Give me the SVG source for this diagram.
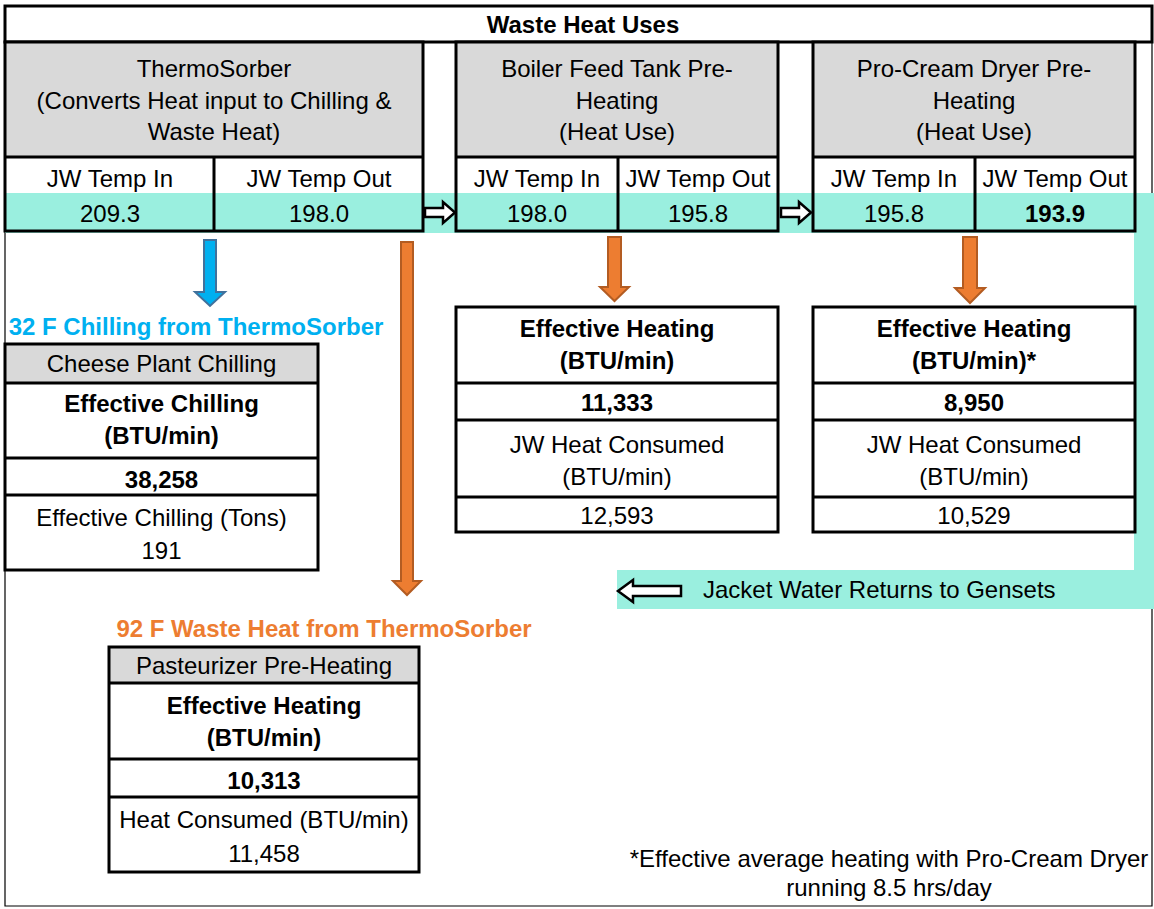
<svg xmlns="http://www.w3.org/2000/svg" width="1154" height="909" viewBox="0 0 1154 909">
<style>
.t{font-family:"Liberation Sans",Arial,sans-serif;font-size:24px;text-anchor:middle;fill:#000}
.b{font-weight:bold}
.ln{fill:none;stroke:#000;stroke-width:3}
.thin{fill:none;stroke:#000;stroke-width:1.2}
.gray{fill:#D9D9D9}
.wh{fill:#FFFFFF}
.tq{fill:#9AEFDF}
.oarr{fill:#ED7D31;stroke:#B35C22;stroke-width:2}
.barr{fill:#00B0F0;stroke:#41719C;stroke-width:2}
.harr{fill:#FFFFFF;stroke:#000;stroke-width:2.5}
</style>
<rect x="0" y="0" width="1154" height="909" fill="#FFFFFF"/>
<g id="frame">
  <path class="thin" d="M5,42 V906 H1152 V42"/>
</g>
<g id="jw-flow">
  <rect class="tq" x="5" y="193" width="1130" height="40"/>
  <rect class="tq" x="1134" y="193" width="20" height="416"/>
  <rect class="tq" x="617" y="570" width="537" height="39"/>
</g>
<g id="header">
  <rect class="ln" x="5" y="6" width="1147" height="36"/>
  <text class="t b" x="583" y="33">Waste Heat Uses</text>
</g>
<g id="thermosorber">
  <rect class="gray" x="5" y="42" width="418" height="115"/>
  <rect class="wh" x="5" y="157" width="418" height="36"/>
  <rect class="ln" x="5" y="42" width="418" height="189"/>
  <path class="ln" d="M5,157 H423 M214,157 V231"/>
  <text class="t" x="214" y="77">ThermoSorber</text>
  <text class="t" x="214" y="109">(Converts Heat input to Chilling &amp;</text>
  <text class="t" x="214" y="140">Waste Heat)</text>
  <text class="t" x="110" y="187">JW Temp In</text>
  <text class="t" x="319" y="187">JW Temp Out</text>
  <text class="t" x="110" y="222">209.3</text>
  <text class="t" x="319" y="222">198.0</text>
</g>
<g id="boiler-feed">
  <rect class="gray" x="456" y="42" width="322" height="115"/>
  <rect class="wh" x="456" y="157" width="322" height="36"/>
  <rect class="ln" x="456" y="42" width="322" height="189"/>
  <path class="ln" d="M456,157 H778 M618,157 V231"/>
  <text class="t" x="617" y="77">Boiler Feed Tank Pre-</text>
  <text class="t" x="617" y="109">Heating</text>
  <text class="t" x="617" y="140">(Heat Use)</text>
  <text class="t" x="537" y="187">JW Temp In</text>
  <text class="t" x="698" y="187">JW Temp Out</text>
  <text class="t" x="537" y="222">198.0</text>
  <text class="t" x="698" y="222">195.8</text>
</g>
<g id="pro-cream">
  <rect class="gray" x="813" y="42" width="322" height="115"/>
  <rect class="wh" x="813" y="157" width="322" height="36"/>
  <rect class="ln" x="813" y="42" width="322" height="189"/>
  <path class="ln" d="M813,157 H1135 M975,157 V231"/>
  <text class="t" x="974" y="77">Pro-Cream Dryer Pre-</text>
  <text class="t" x="974" y="109">Heating</text>
  <text class="t" x="974" y="140">(Heat Use)</text>
  <text class="t" x="894" y="187">JW Temp In</text>
  <text class="t" x="1055" y="187">JW Temp Out</text>
  <text class="t" x="894" y="222">195.8</text>
  <text class="t b" x="1055" y="222">193.9</text>
</g>
<g id="chilling-label">
  <text class="t b" x="196" y="335" fill="#00B0F0" style="fill:#00B0F0">32 F Chilling from ThermoSorber</text>
</g>
<g id="cheese-plant">
  <rect class="gray" x="5" y="344" width="313" height="39"/>
  <rect class="wh" x="5" y="383" width="313" height="187"/>
  <rect class="ln" x="5" y="344" width="313" height="226"/>
  <path class="ln" d="M5,383 H318 M5,458 H318 M5,495 H318"/>
  <text class="t" x="161.5" y="372">Cheese Plant Chilling</text>
  <text class="t b" x="161.5" y="412">Effective Chilling</text>
  <text class="t b" x="161.5" y="444">(BTU/min)</text>
  <text class="t b" x="161.5" y="488">38,258</text>
  <text class="t" x="161.5" y="526">Effective Chilling (Tons)</text>
  <text class="t" x="161.5" y="559">191</text>
</g>
<g id="boiler-heating">
  <rect class="ln" x="456" y="307" width="322" height="225"/>
  <path class="ln" d="M456,383 H778 M456,420 H778 M456,497 H778"/>
  <text class="t b" x="617" y="337">Effective Heating</text>
  <text class="t b" x="617" y="369">(BTU/min)</text>
  <text class="t b" x="617" y="411">11,333</text>
  <text class="t" x="617" y="453">JW Heat Consumed</text>
  <text class="t" x="617" y="485">(BTU/min)</text>
  <text class="t" x="617" y="524">12,593</text>
</g>
<g id="procream-heating">
  <rect class="ln" x="813" y="307" width="322" height="225"/>
  <path class="ln" d="M813,383 H1135 M813,420 H1135 M813,497 H1135"/>
  <text class="t b" x="974" y="337">Effective Heating</text>
  <text class="t b" x="974" y="369">(BTU/min)*</text>
  <text class="t b" x="974" y="411">8,950</text>
  <text class="t" x="974" y="453">JW Heat Consumed</text>
  <text class="t" x="974" y="485">(BTU/min)</text>
  <text class="t" x="974" y="524">10,529</text>
</g>
<g id="jacket-return">
  <text class="t" x="703" y="598" style="text-anchor:start">Jacket Water Returns to Gensets</text>
</g>
<g id="waste-label">
  <text class="t b" x="324" y="637" style="fill:#ED7D31">92 F Waste Heat from ThermoSorber</text>
</g>
<g id="pasteurizer">
  <rect class="gray" x="109" y="647" width="310" height="36"/>
  <rect class="wh" x="109" y="683" width="310" height="189"/>
  <rect class="ln" x="109" y="647" width="310" height="225"/>
  <path class="ln" d="M109,683 H419 M109,759 H419 M109,797 H419"/>
  <text class="t" x="264" y="674">Pasteurizer Pre-Heating</text>
  <text class="t b" x="264" y="714">Effective Heating</text>
  <text class="t b" x="264" y="746">(BTU/min)</text>
  <text class="t b" x="264" y="789">10,313</text>
  <text class="t" x="264" y="828">Heat Consumed (BTU/min)</text>
  <text class="t" x="264" y="862">11,458</text>
</g>
<g id="footnote">
  <text class="t" x="889" y="867">*Effective average heating with Pro-Cream Dryer</text>
  <text class="t" x="889" y="896">running 8.5 hrs/day</text>
</g>
<g id="connectors">
  <path class="harr" d="M425,208 H443 V202 L455,212.5 L443,223 V217 H425 Z"/>
  <path class="harr" d="M781,208 H799 V202 L811,212.5 L799,223 V217 H781 Z"/>
  <path class="harr" d="M681,586 H633 V580 L618,591 L633,602 V596 H681 Z"/>
  <path class="barr" d="M204,240 H216 V292 H225 L210,306 L195,292 H204 Z"/>
  <path class="oarr" d="M401,242 H413 V581 H421 L407,595 L393,581 H401 Z"/>
  <path class="oarr" d="M608,237 H621 V287 H629 L614.5,301 L600,287 H608 Z"/>
  <path class="oarr" d="M963,237 H977 V288 H985 L970,303 L955,288 H963 Z"/>
</g>
</svg>
